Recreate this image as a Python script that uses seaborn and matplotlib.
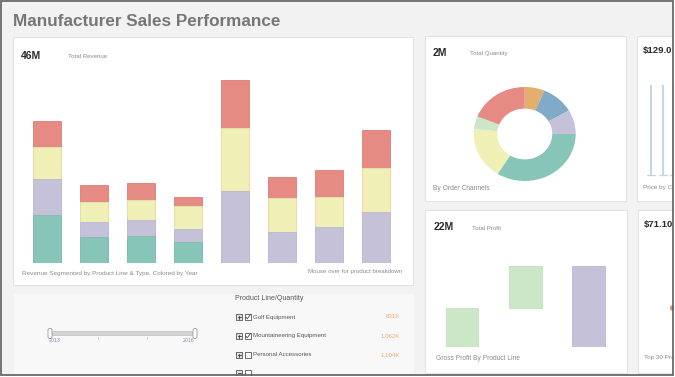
import numpy as np
import pandas as pd
import matplotlib
matplotlib.use("Agg")
import matplotlib.pyplot as plt
from matplotlib.patches import Rectangle, FancyBboxPatch
import seaborn as sns

# ---------------- data ----------------
categories = ["Cooking Gear", "Tents", "Sleeping Bags", "Packs",
              "Lanterns", "Rope", "Safety", "Tools"]
years = ["2013", "2014", "2015", "2016"]
rev_2013 = [2.54, 1.36, 1.44, 1.12, 0.00, 0.00, 0.00, 0.00]
rev_2014 = [1.94, 0.80, 0.87, 0.69, 3.84, 1.67, 1.92, 2.73]
rev_2015 = [1.68, 1.07, 1.07, 1.21, 3.37, 1.78, 1.60, 2.33]
rev_2016 = [1.42, 0.94, 0.91, 0.50, 2.54, 1.12, 1.46, 2.05]

channels = ["Special", "Telephone", "Mail", "Web", "Sales visit", "Fax", "E-mail"]
channel_qty = [126, 208, 166, 678, 356, 88, 378]

profit_lines = ["Golf Equipment", "Mountaineering Equipment", "Total"]
gross_profit = [10.6, 11.4]

list_lines = ["Golf Equipment", "Mountaineering Equipment", "Personal Accessories"]
list_qty = ["831K", "1,062K", "1,104K"]
list_checked = [True, True, False]
slider_years = ["2013", "2016"]

# ---------------- style ----------------
sns.set_theme(style="white")
plt.rcParams["font.family"] = ["Liberation Sans", "DejaVu Sans"]

W, H = 675, 377
fig = plt.figure(figsize=(W / 100, H / 100), dpi=100)
fig.patch.set_facecolor("#f2f2f2")


def rect(x0, y0, x1, y1):
    return [x0 / W, 1 - y1 / H, (x1 - x0) / W, (y1 - y0) / H]


bg = fig.add_axes([0, 0, 1, 1], zorder=0)
bg.set_xlim(0, W)
bg.set_ylim(H, 0)
bg.axis("off")
bg.patch.set_alpha(0)

# panels
def panel(x0, y0, x1, y1, fc="white", ec="#e3e3e3"):
    bg.add_patch(Rectangle((x0, y0), x1 - x0, y1 - y0, facecolor=fc,
                           edgecolor=ec, lw=0.8))

panel(13, 37, 413, 285)
panel(14, 294, 413, 380, fc="#f8f8f8", ec="#f8f8f8")
panel(424.5, 36, 626, 200.5)
panel(636.5, 36, 700, 200.5)
panel(425, 210, 626.5, 372.5)
panel(637.5, 210, 700, 372.5)

GRAY = "#8a8a8a"
DARK = "#2a2a2a"

def t(x, y, s, size=4.4, color=GRAY, weight="normal", ha="left"):
    bg.text(x, y, s, fontsize=size, color=color, fontweight=weight,
            ha=ha, va="center")

t(13, 22, "Manufacturer Sales Performance", size=12.3, color="#767676", weight="bold")
t(21, 56, "46M", size=7.5, color=DARK, weight="bold")
t(68, 57, "Total Revenue")
t(22, 273, "Revenue Segmented by Product Line & Type, Colored by Year", size=4.6)
t(402, 272, "Mouse over for product breakdown", size=4.4, ha="right")

t(433, 53, "2M", size=7.5, color=DARK, weight="bold")
t(470, 54, "Total Quantity")
t(433, 188, "By Order Channels", size=4.8)

# right-hand panels are cut by the screenshot edge; only the visible part is shown
t(643, 50, "$129.0", size=6.8, color=DARK, weight="bold")
t(643, 187, "Price by C", size=4.6)

t(434, 227, "22M", size=7.5, color=DARK, weight="bold")
t(472, 228, "Total Profit")
t(436, 359, "Gross Profit By Product Line", size=4.8)

t(644, 225, "$71.10", size=6.8, color=DARK, weight="bold")
t(644, 357, "Top 30 Pro", size=4.6)
bg.add_patch(plt.Circle((672.5, 308), 2.0, color="#f08a80"))

# price panel decorations
for px in [651, 663, 674]:
    bg.plot([px, px], [85, 175], color="#c2d6e8", lw=1.4, solid_capstyle="butt")
    bg.plot([px - 4, px + 4], [175, 175], color="#c2d6e8", lw=1.0)

# slider
bg.add_patch(FancyBboxPatch((50, 331.5), 145, 4, boxstyle="round,pad=0,rounding_size=1.2",
                            facecolor="#d3d3d3", edgecolor="#bdbdbd", lw=0.5))
for hx in [50, 195]:
    bg.add_patch(FancyBboxPatch((hx - 2, 328.5), 4, 10, boxstyle="round,pad=0,rounding_size=1.8",
                                facecolor="white", edgecolor="#9a9a9a", lw=0.6))
for tx in [98, 147]:
    bg.plot([tx, tx], [337, 338.5], color="#bbbbbb", lw=0.5)
bg.text(55, 341, slider_years[0], fontsize=3.8, color="#8a8ab0", ha="center", va="center")
bg.text(189, 341, slider_years[-1], fontsize=3.8, color="#8a8ab0", ha="center", va="center")

# product list
t(235, 299, "Product Line/Quantity", size=5.0, color="#555555")
rows_y = [317, 336, 355, 373]
for i, ry in enumerate(rows_y):
    bg.add_patch(Rectangle((236, ry - 3), 6, 6, facecolor="#e0e0e0", edgecolor="#555555", lw=0.6))
    bg.plot([237.5, 240.5], [ry, ry], color="#333333", lw=0.6)
    if i < 3:
        bg.plot([239, 239], [ry - 1.5, ry + 1.5], color="#333333", lw=0.6)
    bg.add_patch(Rectangle((244.5, ry - 3), 6, 6, facecolor="white", edgecolor="#555555", lw=0.6))
    if i < len(list_lines):
        if list_checked[i]:
            bg.plot([245.8, 247.3, 250.5], [ry, ry + 1.8, ry - 2.5], color="#444444", lw=0.6)
        t(253, ry, list_lines[i], size=4.4, color="#555555")
        t(400, ry, list_qty[i], size=4.4, color="#f2a96a", ha="right")

# ---------------- stacked revenue bars (seaborn) ----------------
df = pd.DataFrame({"category": categories, "2013": rev_2013, "2014": rev_2014,
                   "2015": rev_2015, "2016": rev_2016})
stack_order = ["2013", "2014", "2015", "2016"]
fills = {"2013": "#86c5b8", "2014": "#c5c1d9", "2015": "#efefb6", "2016": "#e58b83"}
edges = {"2013": "#7dbcae", "2014": "#bcb7d2", "2015": "#e6e6a8", "2016": "#df7c73"}

ax = fig.add_axes(rect(23.5, 73, 399.5, 263), zorder=2)
ax.patch.set_alpha(0)
for k in range(len(stack_order), 0, -1):
    layer = stack_order[k - 1]
    cum = df[stack_order[:k]].sum(axis=1)
    sns.barplot(x=df["category"], y=cum, color=fills[layer], saturation=1,
                width=0.617, edgecolor=edges[layer], linewidth=0.6, ax=ax,
                order=categories)
ax.set_xlim(-0.5, len(categories) - 0.5)
ax.set_ylim(0, 10.13)
ax.axis("off")

# ---------------- donut ----------------
pie_colors = ["#e4ae6e", "#80aac7", "#c5c1d9", "#86c5b8", "#efefb6", "#cce6c8", "#e58b83"]
axp = fig.add_axes(rect(473.7, 87, 575.7, 181), zorder=2)
axp.pie(channel_qty, colors=pie_colors, startangle=90, counterclock=False,
        radius=1, wedgeprops=dict(width=0.46, edgecolor="none"))
axp.set_aspect("auto")
axp.set_xlim(-1, 1)
axp.set_ylim(-1, 1)
axp.axis("off")

# ---------------- waterfall profit ----------------
axw = fig.add_axes(rect(430.35, 257, 620.35, 347), zorder=2)
axw.patch.set_alpha(0)
bottoms = [0, gross_profit[0], 0]
heights = [gross_profit[0], gross_profit[1], sum(gross_profit)]
wcolors = ["#cce6c8", "#cce6c8", "#c5c1d9"]
axw.bar(range(3), heights, bottom=bottoms, width=0.516, color=wcolors,
        edgecolor=["#c3dfbf", "#c3dfbf", "#bcb8d2"], linewidth=0.6)
axw.set_xlim(-0.5, 2.5)
axw.set_ylim(0, 24.5)
axw.axis("off")

# ---------------- frame ----------------
top = fig.add_axes([0, 0, 1, 1], zorder=10)
top.set_xlim(0, W)
top.set_ylim(H, 0)
top.axis("off")
top.patch.set_alpha(0)
top.add_patch(Rectangle((673.6, -1), 5, H + 2, facecolor="white", edgecolor="none"))
top.add_patch(Rectangle((-1, 375.6), W + 2, 5, facecolor="white", edgecolor="none"))
top.add_patch(Rectangle((0.6, 0.6), 672.6, 374.6, facecolor="none", edgecolor="#5e5e5e", lw=1.2))

fig.savefig("out.png", dpi=100, facecolor=fig.get_facecolor())
